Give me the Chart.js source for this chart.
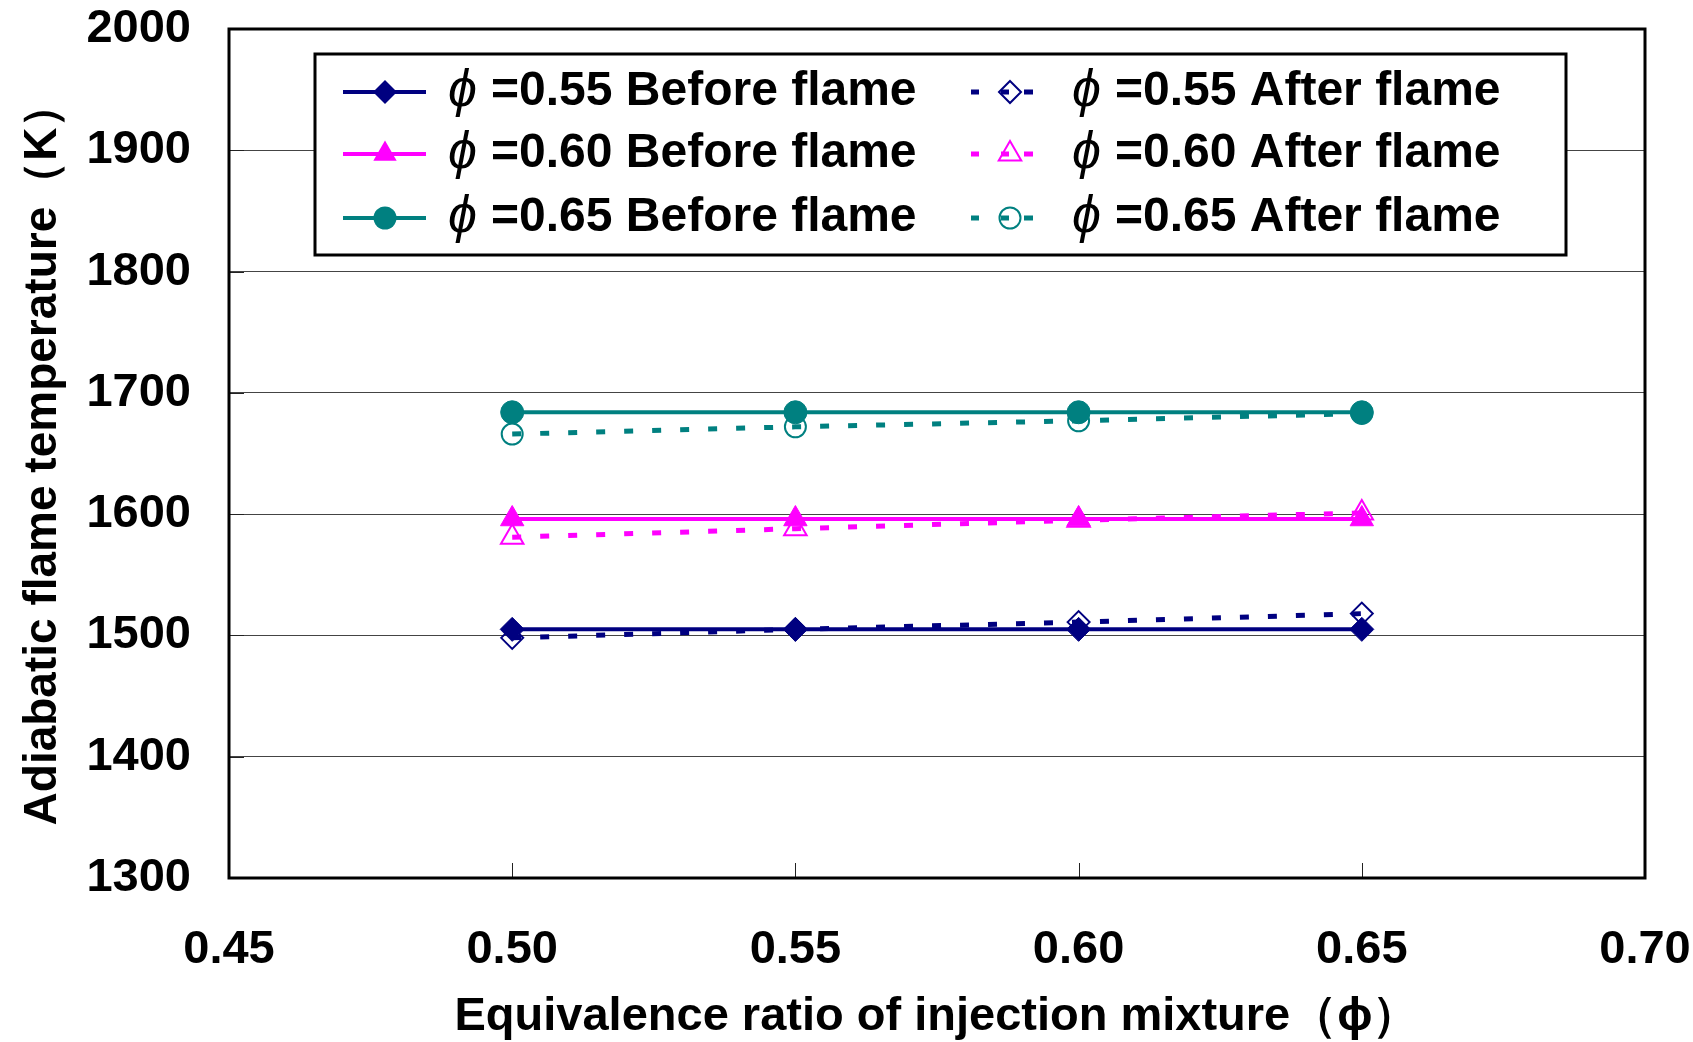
<!DOCTYPE html>
<html>
<head>
<meta charset="utf-8">
<script src="https://cdn.jsdelivr.net/npm/chart.js@4.4.1/dist/chart.umd.min.js"></script>
<style>
  html, body { margin: 0; padding: 0; background: #fff; }
  #wrap { width: 1693px; height: 1042px; }
</style>
</head>
<body>
<div id="wrap"><canvas id="flameChart" width="1693" height="1042"></canvas></div>
<script>
// equivalence ratio of injection mixture (x values)
const phiValues = [0.50, 0.55, 0.60, 0.65];

// adiabatic flame temperature (K)
const before055 = [1505, 1505, 1505, 1505];
const after055  = [1498, 1505, 1511, 1518];
const before060 = [1596, 1596, 1596, 1596];
const after060  = [1581, 1588, 1595, 1601];
const before065 = [1684, 1684, 1684, 1684];
const after065  = [1666, 1672, 1677, 1683];

const seriesLabels = [
  'ϕ=0.55 Before flame', 'ϕ=0.60 Before flame', 'ϕ=0.65 Before flame',
  'ϕ=0.55 After flame', 'ϕ=0.60 After flame', 'ϕ=0.65 After flame'
];

const NAVY = '#000080', MAGENTA = '#FF00FF', TEAL = '#008080';
const FONT = '"Liberation Sans", Arial, sans-serif';

const pts = arr => arr.map((v, i) => ({ x: phiValues[i], y: v }));

function beforeSet(label, vals, color, style, r) {
  return {
    label, data: pts(vals), borderColor: color, backgroundColor: color,
    borderWidth: 4, pointStyle: style, pointRadius: r, pointHoverRadius: r,
    pointBackgroundColor: color, pointBorderColor: color, pointBorderWidth: 1,
    tension: 0
  };
}
function afterSet(label, vals, color, style, r) {
  return {
    label, data: pts(vals), borderColor: color, backgroundColor: 'rgba(0,0,0,0)',
    borderWidth: 5, borderDash: [9, 19], pointStyle: style, pointRadius: r, pointHoverRadius: r,
    pointBackgroundColor: 'rgba(0,0,0,0)', pointBorderColor: color, pointBorderWidth: 2,
    tension: 0
  };
}

function drawMarker(ctx, style, x, y, r) {
  ctx.beginPath();
  if (style === 'circle') {
    ctx.arc(x, y, r, 0, Math.PI * 2);
  } else if (style === 'rectRot') {
    ctx.moveTo(x, y - r); ctx.lineTo(x + r, y); ctx.lineTo(x, y + r); ctx.lineTo(x - r, y);
  } else if (style === 'triangle') {
    ctx.moveTo(x, y - r);
    ctx.lineTo(x + 0.866 * r, y + 0.5 * r);
    ctx.lineTo(x - 0.866 * r, y + 0.5 * r);
  }
  ctx.closePath();
}

// plot frame and the little inward tick marks
const framePlugin = {
  id: 'frame',
  beforeDatasetsDraw(chart) {
    const { ctx, chartArea: a, scales: { x, y } } = chart;
    ctx.save();
    ctx.strokeStyle = '#222';
    ctx.lineWidth = 1;
    ctx.beginPath();
    x.ticks.forEach(t => {
      const px = Math.round(x.getPixelForValue(t.value)) + 0.5;
      ctx.moveTo(px, a.bottom); ctx.lineTo(px, a.bottom - 15);
    });
    y.ticks.forEach(t => {
      const py = Math.round(y.getPixelForValue(t.value)) + 0.5;
      ctx.moveTo(a.left, py); ctx.lineTo(a.left + 15, py);
    });
    ctx.stroke();
    ctx.strokeStyle = '#000';
    ctx.lineWidth = 3;
    ctx.strokeRect(a.left, a.top, a.right - a.left, a.bottom - a.top);
    ctx.restore();
  }
};

// boxed two-column legend inside the plot
const legendBox = {
  id: 'legendBox',
  afterDraw(chart) {
    const { ctx, chartArea: a } = chart;
    const ds = chart.data.datasets;
    const bx = a.left + 86, by = a.top + 25, bw = 1251, bh = 201;
    ctx.save();
    ctx.fillStyle = '#fff';
    ctx.fillRect(bx, by, bw, bh);
    ctx.strokeStyle = '#000';
    ctx.lineWidth = 3;
    ctx.strokeRect(bx, by, bw, bh);

    const rows = [by + 38, by + 100, by + 164];
    ds.forEach((d, i) => {
      const col = i < 3 ? 0 : 1;
      const yy = rows[i % 3];
      ctx.strokeStyle = d.borderColor;
      if (col === 0) {
        ctx.lineWidth = 4;
        ctx.beginPath(); ctx.moveTo(bx + 28, yy); ctx.lineTo(bx + 111, yy); ctx.stroke();
        ctx.fillStyle = d.borderColor;
        drawMarker(ctx, d.pointStyle, bx + 70, yy, d.pointRadius);
        ctx.fill();
      } else {
        ctx.lineWidth = 5;
        ctx.beginPath();
        ctx.moveTo(bx + 656, yy); ctx.lineTo(bx + 664, yy);
        ctx.moveTo(bx + 686, yy); ctx.lineTo(bx + 694, yy);
        ctx.moveTo(bx + 709, yy); ctx.lineTo(bx + 718, yy);
        ctx.stroke();
        ctx.lineWidth = 2;
        drawMarker(ctx, d.pointStyle, bx + 695, yy, d.pointRadius);
        ctx.stroke();
      }
      const tx = col === 0 ? bx + 133 : bx + 757;
      ctx.fillStyle = '#000';
      ctx.textBaseline = 'middle';
      ctx.textAlign = 'left';
      ctx.font = 'italic 52px ' + FONT;
      ctx.fillText(d.label.charAt(0), tx, yy);
      ctx.font = 'bold 48px ' + FONT;
      ctx.fillText(d.label.slice(1), tx + 43, yy);
    });
    ctx.restore();
  }
};

const ctx = document.getElementById('flameChart').getContext('2d');
new Chart(ctx, {
  type: 'line',
  data: {
    datasets: [
      beforeSet(seriesLabels[0], before055, NAVY, 'rectRot', 12),
      beforeSet(seriesLabels[1], before060, MAGENTA, 'triangle', 13.5),
      beforeSet(seriesLabels[2], before065, TEAL, 'circle', 11.5),
      afterSet(seriesLabels[3], after055, NAVY, 'rectRot', 11),
      afterSet(seriesLabels[4], after060, MAGENTA, 'triangle', 13),
      afterSet(seriesLabels[5], after065, TEAL, 'circle', 10.5)
    ]
  },
  options: {
    responsive: false,
    animation: false,
    layout: { padding: { top: 29, right: 48, left: 0, bottom: 0 } },
    plugins: {
      legend: { display: false },
      tooltip: { enabled: false }
    },
    scales: {
      x: {
        type: 'linear',
        min: 0.45,
        max: 0.70,
        afterFit: s => { s.height = 164; s.paddingLeft = 0; s.paddingRight = 0; },
        ticks: {
          stepSize: 0.05,
          padding: 44,
          color: '#000',
          font: { family: FONT, size: 47, weight: 'bold' },
          callback: v => Number(v).toFixed(2)
        },
        grid: { display: false, drawTicks: false },
        border: { display: false },
        title: {
          display: true,
          text: 'Equivalence ratio of injection mixture（ϕ）',
          color: '#000',
          font: { family: FONT, size: 47, weight: 'bold', lineHeight: 1 },
          padding: { top: 0, bottom: 1 }
        }
      },
      y: {
        min: 1300,
        max: 2000,
        afterFit: s => { s.width = 229; s.paddingTop = 0; s.paddingBottom = 0; },
        ticks: {
          stepSize: 100,
          padding: 38,
          color: '#000',
          font: { family: FONT, size: 47, weight: 'bold' },
          callback: v => String(v)
        },
        grid: { color: '#444', lineWidth: 1, drawTicks: false },
        border: { display: false },
        title: {
          display: true,
          text: 'Adiabatic flame temperature（K）',
          color: '#000',
          font: { family: FONT, size: 46, weight: 'bold', lineHeight: 1 },
          padding: { top: 20, bottom: 0 }
        }
      }
    }
  },
  plugins: [framePlugin, legendBox]
});
</script>
</body>
</html>
